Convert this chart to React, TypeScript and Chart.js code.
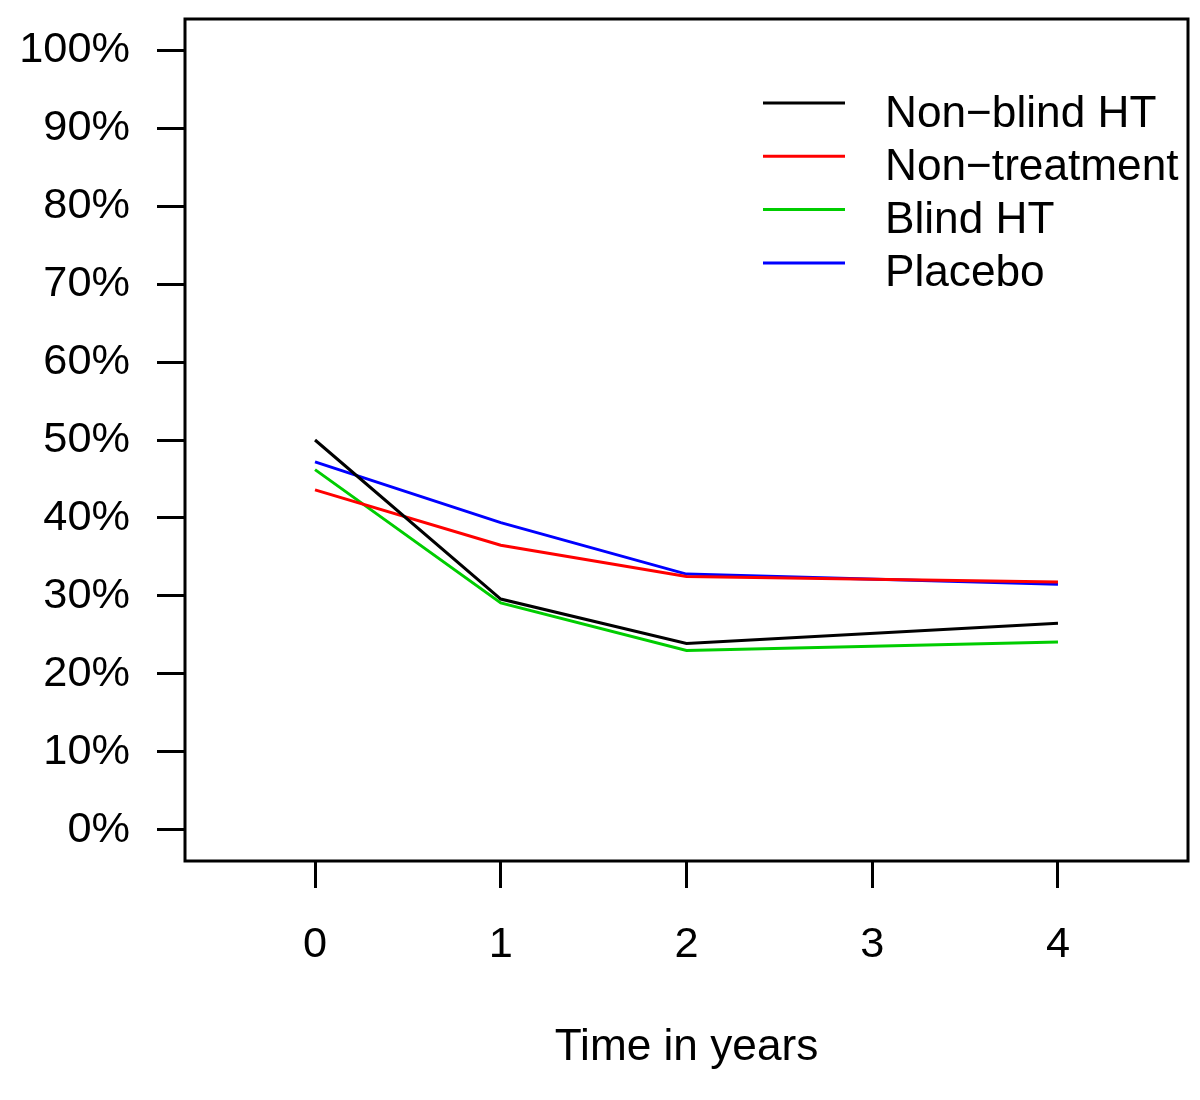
import React, { useEffect, useRef } from 'react';
import { Chart, registerables } from 'chart.js';

Chart.register(...registerables);

const years = [0, 1, 2, 4];
const xTickValues = [0, 1, 2, 3, 4];
const yTickValues = [0, 10, 20, 30, 40, 50, 60, 70, 80, 90, 100];
const seriesNames = ['Non\u2212blind HT', 'Non\u2212treatment', 'Blind HT', 'Placebo'];
const nonBlindHT = [50.0, 29.6, 23.9, 26.5];
const nonTreatment = [43.6, 36.5, 32.5, 31.8];
const blindHT = [46.2, 29.1, 23.0, 24.1];
const placebo = [47.2, 39.4, 32.8, 31.5];
const seriesColors = ['#000000', '#FF0000', '#00CD00', '#0000FF'];
const xAxisTitle = 'Time in years';

const FONT = '"Liberation Sans", Arial, Helvetica, sans-serif';
const TICK_SIZE = 43.3;
const TEXT_SIZE = 44.2;
const LW = 3;

const boxPlugin = {
  id: 'rbox',
  afterDraw(chart: any) {
    const { ctx, chartArea } = chart;
    ctx.save();
    ctx.strokeStyle = '#000';
    ctx.lineWidth = LW;
    ctx.strokeRect(chartArea.left, chartArea.top, chartArea.right - chartArea.left, chartArea.bottom - chartArea.top);
    ctx.restore();
  },
};

const legendPlugin = {
  id: 'rlegend',
  afterDraw(chart: any) {
    const { ctx } = chart;
    ctx.save();
    ctx.font = `${TEXT_SIZE}px ${FONT}`;
    ctx.textAlign = 'left';
    ctx.textBaseline = 'alphabetic';
    chart.data.datasets.forEach((ds: any, i: number) => {
      const y = 103 + i * 53.3;
      ctx.strokeStyle = ds.borderColor;
      ctx.lineWidth = LW;
      ctx.beginPath();
      ctx.moveTo(763, y);
      ctx.lineTo(845, y);
      ctx.stroke();
      ctx.fillStyle = '#000';
      ctx.fillText(ds.label, 885, y + 23.5);
    });
    ctx.restore();
  },
};

export default function App() {
  const ref = useRef<HTMLCanvasElement | null>(null);
  useEffect(() => {
    if (!ref.current) return;
    const seriesValues = [nonBlindHT, nonTreatment, blindHT, placebo];
    const chart = new Chart(ref.current, {
      type: 'line',
      data: {
        datasets: seriesValues.map((vals, i) => ({
          label: seriesNames[i],
          data: years.map((x, j) => ({ x, y: vals[j] })),
          borderColor: seriesColors[i],
          backgroundColor: seriesColors[i],
          borderWidth: LW,
          pointRadius: 0,
          tension: 0,
          fill: false,
        })),
      },
      options: {
        animation: false,
        responsive: false,
        devicePixelRatio: 1,
        layout: { padding: { left: 0, top: 19, right: 12, bottom: 0 } },
        plugins: {
          legend: { display: false },
          tooltip: { enabled: false },
          title: { display: false },
        },
        scales: {
          x: {
            type: 'linear',
            min: -0.7,
            max: 4.7,
            afterBuildTicks: (s: any) => {
              s.ticks = xTickValues.map((v) => ({ value: v }));
            },
            afterFit: (s: any) => {
              s.height = 239;
              s.paddingLeft = 0;
              s.paddingRight = 0;
            },
            border: { display: false },
            grid: {
              drawOnChartArea: false,
              drawTicks: true,
              tickLength: 27,
              color: '#000',
              lineWidth: LW,
            },
            ticks: {
              autoSkip: false,
              maxRotation: 0,
              padding: 31,
              color: '#000',
              font: { family: FONT, size: TICK_SIZE },
              callback: (v: any) => String(v),
            },
            title: {
              display: true,
              text: xAxisTitle,
              color: '#000',
              font: { family: FONT, size: TEXT_SIZE, lineHeight: 1.2 },
              padding: { top: 0, bottom: 26 },
            },
          },
          y: {
            type: 'linear',
            min: -4,
            max: 104,
            afterBuildTicks: (s: any) => {
              s.ticks = yTickValues.map((v) => ({ value: v }));
            },
            afterFit: (s: any) => {
              s.width = 185;
              s.paddingTop = 0;
              s.paddingBottom = 0;
            },
            border: { display: false },
            grid: {
              drawOnChartArea: false,
              drawTicks: true,
              tickLength: 28,
              color: '#000',
              lineWidth: LW,
            },
            ticks: {
              autoSkip: false,
              padding: 27,
              color: '#000',
              font: { family: FONT, size: TICK_SIZE },
              callback: (v: any) => `${v}%`,
            },
          },
        },
      },
      plugins: [boxPlugin, legendPlugin],
    } as any);
    return () => chart.destroy();
  }, []);
  return (
    <div style={{ position: 'absolute', left: 0, top: 0, width: 1200, height: 1100, background: '#fff' }}>
      <canvas ref={ref} width={1200} height={1100} style={{ display: 'block' }} />
    </div>
  );
}
